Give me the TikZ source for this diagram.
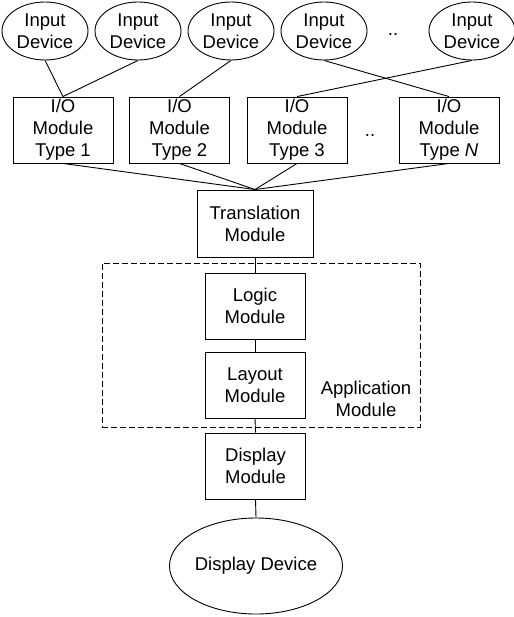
\documentclass[tikz,border=0pt]{standalone}
\usepackage{fontspec}
\setmainfont{Liberation Sans}
\usetikzlibrary{shapes.geometric}
\tikzset{
  base/.style={line width=0.9bp, black},
  device/.style={base, draw, ellipse, inner sep=0pt, align=center,
    minimum width=86bp, minimum height=58bp,
    font=\fontsize{18.5bp}{22bp}\selectfont},
  modbox/.style={base, draw, rectangle, inner sep=0pt, align=center,
    minimum width=100bp, minimum height=66bp,
    font=\fontsize{18.5bp}{22bp}\selectfont},
  plain/.style={inner sep=0pt, align=center,
    font=\fontsize{18.5bp}{22bp}\selectfont},
  link/.style={base},
  groupbox/.style={base, draw, dash pattern=on 6bp off 3bp, rectangle,
    inner sep=0pt, minimum width=318bp, minimum height=164bp},
}
\begin{document}
\begin{tikzpicture}[x=1bp, y=-1bp]
\useasboundingbox (0,0) rectangle (514,617);

% application module group (drawn first, behind everything)
\node[groupbox] (app) at (261,345) {};
\node[plain] (applbl) at (366,399) {Application\\Module};

% input devices
\node[device] (e1) at (45,31)  {Input\\Device};
\node[device] (e2) at (138,31) {Input\\Device};
\node[device] (e3) at (231,31) {Input\\Device};
\node[device] (e4) at (324,31) {Input\\Device};
\node[device] (e5) at (472,31) {Input\\Device};
\node[plain] (dotsA) at (393,35) {..};

% I/O modules
\node[modbox] (b1) at (63,130)  {I/O\\Module\\Type 1};
\node[modbox] (b2) at (179.5,130) {I/O\\Module\\Type 2};
\node[modbox] (b3) at (297,130) {I/O\\Module\\Type 3};
\node[modbox] (b4) at (449,130) {I/O\\Module\\Type \textit{N}};
\node[plain] (dotsB) at (370,136) {..};

% processing chain
\node[modbox, minimum width=116bp, minimum height=67bp] (tr) at (255,223.5) {Translation\\Module};
\node[modbox] (logic) at (255,306) {Logic\\Module};
\node[modbox] (layout) at (255,385) {Layout\\Module};
\node[modbox] (disp) at (255.5,466) {Display\\Module};
\node[device, minimum width=170bp, minimum height=96bp] (dd) at (256,566) {Display Device};

% connectors
\draw[link] (e1.south) -- (b1.north);
\draw[link] (e2.south) -- (b1.north);
\draw[link] (e3.south) -- (b2.north);
\draw[link] (e4.south) -- (b4.north);
\draw[link] (e5.south) -- (b3.north);
\draw[link] (b1.south) -- (tr.north);
\draw[link] (b2.south) -- (tr.north);
\draw[link] (b3.south) -- (tr.north);
\draw[link] (b4.south) -- (tr.north);
\draw[link] (tr.south) -- (logic.north);
\draw[link] (logic.south) -- (layout.north);
\draw[link] (layout.south) -- (disp.north);
\draw[link] (disp.south) -- (dd.north);
\end{tikzpicture}
\end{document}
